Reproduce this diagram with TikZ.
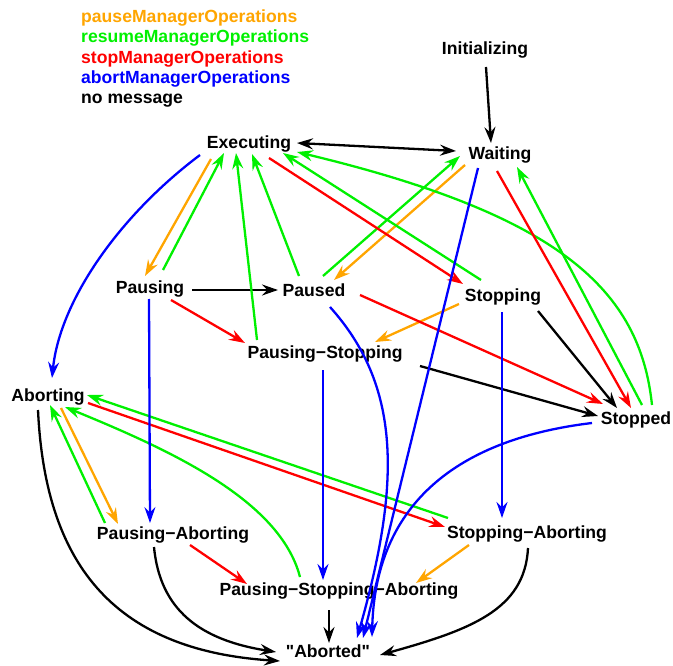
\documentclass[tikz,border=0pt]{standalone}
\usepackage{fontspec}
\newfontfamily\diafont{Liberation Sans}
\usetikzlibrary{arrows.meta,calc}
\definecolor{cpause}{RGB}{255,165,0}
\definecolor{cresume}{RGB}{0,240,0}
\definecolor{cstop}{RGB}{255,0,0}
\definecolor{cabort}{RGB}{0,0,255}
\begin{document}
\begin{tikzpicture}[x=1pt,y=-1pt,
  >={Stealth[length=16pt,width=11pt,inset=5.5pt]},
  st/.style={font=\diafont\fontsize{17.6}{20}\selectfont\bfseries, inner sep=0pt, text height=12.6pt, text depth=0pt},
  lg/.style={st, anchor=west},
  tr/.style={line width=2.3pt, ->},
  nomsg/.style={tr, black},
  pz/.style={tr, cpause},
  rs/.style={tr, cresume},
  sp/.style={tr, cstop},
  ab/.style={tr, cabort}]
\useasboundingbox (0,0) rectangle (673,666);
% legend
\node[lg, cpause]  (lgp) at (81,16) {pauseManagerOperations};
\node[lg, cresume] (lgr) at (81,36.5) {resumeManagerOperations};
\node[lg, cstop]   (lgs) at (81,57) {stopManagerOperations};
\node[lg, cabort]  (lga) at (81,77) {abortManagerOperations};
\node[lg]          (lgn) at (81,97) {no message};
% states
\node[st] (init) at (485,48) {Initializing};
\node[st] (exec) at (249,142) {Executing};
\node[st] (wait) at (500,153) {Waiting};
\node[st] (pausing) at (150,287) {Pausing};
\node[st] (paused) at (314,290) {Paused};
\node[st] (stopping) at (503,295) {Stopping};
\node[st] (ps) at (325,352) {Pausing−Stopping};
\node[st] (aborting) at (48,395) {Aborting};
\node[st] (stopped) at (636,418) {Stopped};
\node[st] (pa) at (173,533) {Pausing−Aborting};
\node[st] (sa) at (527,532) {Stopping−Aborting};
\node[st] (psa) at (339,589) {Pausing−Stopping−Aborting};
\node[st] (aborted) at (328,651) {"Aborted"};
% no message
\draw[nomsg] ($(init)+(1,19)$) -- ($(wait)+(-9,-10)$);
\draw[nomsg,<->] ($(exec)+(48,1)$) -- ($(wait)+(-44,-2)$);
\draw[nomsg] ($(pausing)+(42,3)$) -- ($(paused)+(-36,0)$);
\draw[nomsg] ($(stopping)+(35,16)$) -- ($(stopped)+(-19,-10)$);
\draw[nomsg] ($(ps)+(95,14)$) -- ($(stopped)+(-38,-2)$);
\draw[nomsg] ($(aborting)+(-10,15)$) .. controls (45,560) and (110,650) .. ($(aborted)+(-48,10)$);
\draw[nomsg] ($(pa)+(-19,14)$) .. controls (160,610) and (200,640) .. ($(aborted)+(-52,1)$);
\draw[nomsg] ($(psa)+(-10,21)$) -- ($(aborted)+(1,-8)$);
\draw[nomsg] ($(sa)+(1,16)$) .. controls (525,610) and (470,630) .. ($(aborted)+(52,4)$);
% pause
\draw[pz] ($(exec)+(-38,17)$) -- ($(pausing)+(-5,-11)$);
\draw[pz] ($(wait)+(-35,12)$) -- ($(paused)+(20,-10)$);
\draw[pz] ($(stopping)+(-44,9)$) -- ($(ps)+(50,-10)$);
\draw[pz] ($(aborting)+(13,13)$) -- ($(pa)+(-55,-9)$);
\draw[pz] ($(sa)+(-58,13)$) -- ($(psa)+(77,-6)$);
% resume
\draw[rs] ($(pausing)+(13,-17)$) -- ($(exec)+(-25,11)$);
\draw[rs] ($(ps)+(-68,-12)$) -- ($(exec)+(-13,11)$);
\draw[rs] ($(paused)+(-15,-14)$) -- ($(exec)+(3,12)$);
\draw[rs] ($(paused)+(9,-14)$) -- ($(wait)+(-40,3)$);
\draw[rs] ($(stopping)+(-22,-15)$) -- ($(exec)+(34,11)$);
\draw[rs] ($(stopped)+(16,-13)$) .. controls (640,290) and (560,215) .. ($(exec)+(48,10)$);
\draw[rs] ($(stopped)+(6,-13)$) -- ($(wait)+(17,14)$);
\draw[rs] ($(pa)+(-68,-10)$) -- ($(aborting)+(2,10)$);
\draw[rs] ($(psa)+(-39,-12)$) .. controls (280,500) and (170,450) .. ($(aborting)+(17,12)$);
\draw[rs] ($(sa)+(-79,-14)$) -- ($(aborting)+(39,0)$);
% stop
\draw[sp] ($(exec)+(20,16)$) -- ($(stopping)+(-40,-11)$);
\draw[sp] ($(wait)+(-3,18)$) -- ($(stopped)+(-5,-10)$);
\draw[sp] ($(pausing)+(21,13)$) -- ($(ps)+(-80,-9)$);
\draw[sp] ($(paused)+(46,5)$) -- ($(stopped)+(-33,-14)$);
\draw[sp] ($(aborting)+(40,8)$) -- ($(sa)+(-82,-5)$);
\draw[sp] ($(pa)+(17,12)$) -- ($(psa)+(-92,-5)$);
% abort
\draw[ab] ($(exec)+(-49,13)$) .. controls (120,215) and (60,300) .. ($(aborting)+(4,-17)$);
\draw[ab] ($(pausing)+(-1,12)$) -- ($(pa)+(-23,-10)$);
\draw[ab] ($(ps)+(-2,18)$) -- ($(psa)+(-16,-9)$);
\draw[ab] ($(stopping)+(-1,17)$) -- ($(sa)+(-25,-14)$);
\draw[ab] ($(paused)+(16,17)$) .. controls (400,385) and (402,480) .. ($(aborted)+(29,-13)$);
\draw[ab] ($(wait)+(-22,15)$) -- ($(aborted)+(35,-13)$);
\draw[ab] ($(stopped)+(-44,5)$) .. controls (450,440) and (375,510) .. ($(aborted)+(44,-14)$);
\end{tikzpicture}
\end{document}
